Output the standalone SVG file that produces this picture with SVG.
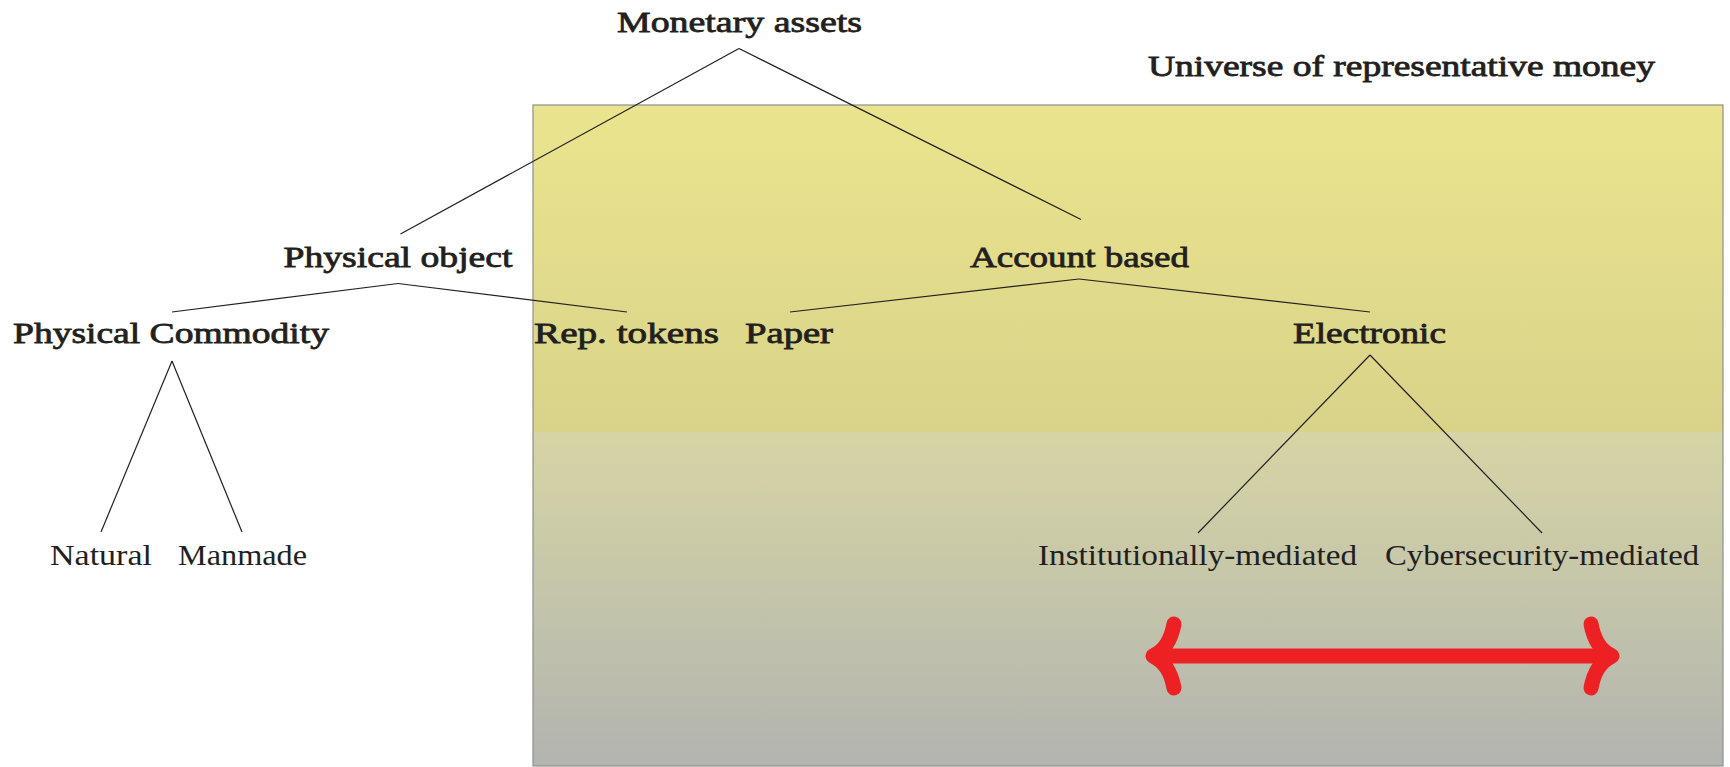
<svg xmlns="http://www.w3.org/2000/svg" width="1730" height="767" viewBox="0 0 1730 767">
  <defs>
    <linearGradient id="bg" gradientUnits="userSpaceOnUse" x1="0" y1="105" x2="0" y2="766">
      <stop offset="0" stop-color="#ebe48e"/>
      <stop offset="0.495" stop-color="#d8d389"/>
      <stop offset="0.495" stop-color="#d6d5a5"/>
      <stop offset="1" stop-color="#b2b4af"/>
    </linearGradient>
  </defs>
  <style>
    text { font-family: "Liberation Serif", "Times New Roman", serif; font-size: 30px; fill: #231f20; text-anchor: middle; }
    .b { stroke: #231f20; stroke-width: 0.8px; }
    .edge { stroke: #231f20; stroke-width: 1.2; fill: none; }
    .red { stroke: #ed2024; stroke-width: 15; fill: none; stroke-linecap: round; stroke-linejoin: round; }
  </style>
  <rect id="universe" x="533" y="105" width="1190" height="661" fill="url(#bg)" stroke="#8f8f8f" stroke-width="1.2"/>
  <g id="connectors">
    <line class="edge" x1="739" y1="48.5" x2="400.5" y2="234"/>
    <line class="edge" x1="739" y1="48.5" x2="1081" y2="219.5"/>
    <line class="edge" x1="398" y1="283.5" x2="172" y2="312"/>
    <line class="edge" x1="398" y1="283.5" x2="627" y2="312"/>
    <line class="edge" x1="1079" y1="279" x2="790" y2="312"/>
    <line class="edge" x1="1079" y1="279" x2="1370" y2="312"/>
    <line class="edge" x1="172" y1="361" x2="101" y2="532"/>
    <line class="edge" x1="172" y1="361" x2="242" y2="532"/>
    <line class="edge" x1="1370" y1="355" x2="1198" y2="533"/>
    <line class="edge" x1="1370" y1="355" x2="1542" y2="533"/>
    <g id="double-arrow">
      <line class="red" x1="1156" y1="656" x2="1610" y2="656"/>
      <path class="red" d="M1174,624 C1171,640 1165,650 1153,656 C1165,662 1171,672 1174,688"/>
      <path class="red" d="M1591,624 C1594,640 1600,650 1612,656 C1600,662 1594,672 1591,688"/>
    </g>
  </g>
  <g id="monetary-assets"><text class="b" x="739.5" y="32" textLength="245" lengthAdjust="spacingAndGlyphs">Monetary assets</text></g>
  <g id="universe-label"><text class="b" x="1401.5" y="76" textLength="507" lengthAdjust="spacingAndGlyphs">Universe of representative money</text></g>
  <g id="physical-object"><text class="b" x="398" y="267" textLength="229" lengthAdjust="spacingAndGlyphs">Physical object</text></g>
  <g id="account-based"><text class="b" x="1079.5" y="267" textLength="219" lengthAdjust="spacingAndGlyphs">Account based</text></g>
  <g id="physical-commodity"><text class="b" x="171" y="343" textLength="316" lengthAdjust="spacingAndGlyphs">Physical Commodity</text></g>
  <g id="rep-tokens"><text class="b" x="626.5" y="343" textLength="185" lengthAdjust="spacingAndGlyphs">Rep. tokens</text></g>
  <g id="paper"><text class="b" x="789" y="343" textLength="88" lengthAdjust="spacingAndGlyphs">Paper</text></g>
  <g id="electronic"><text class="b" x="1369.5" y="343" textLength="153" lengthAdjust="spacingAndGlyphs">Electronic</text></g>
  <g id="natural"><text x="101" y="565" textLength="102" lengthAdjust="spacingAndGlyphs">Natural</text></g>
  <g id="manmade"><text x="242.5" y="565" textLength="129" lengthAdjust="spacingAndGlyphs">Manmade</text></g>
  <g id="institutionally-mediated"><text x="1197.5" y="565" textLength="319" lengthAdjust="spacingAndGlyphs">Institutionally-mediated</text></g>
  <g id="cybersecurity-mediated"><text x="1542" y="565" textLength="314" lengthAdjust="spacingAndGlyphs">Cybersecurity-mediated</text></g>
</svg>
